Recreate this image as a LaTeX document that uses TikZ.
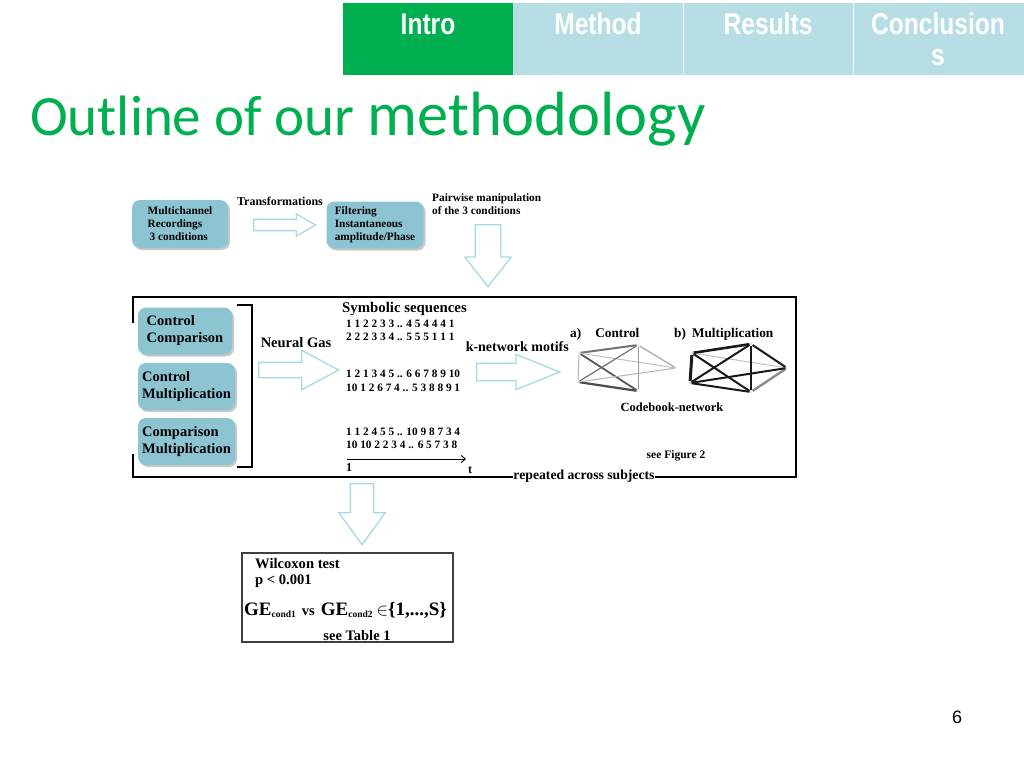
\documentclass[tikz,border=0pt]{standalone}
\usepackage{fontspec}
\setmainfont{Liberation Serif}
\newfontfamily\titlefont{Carlito}
\newfontfamily\tabfont[FakeStretch=0.82]{Liberation Sans}
\newfontfamily\pagefont{Liberation Sans}
\usetikzlibrary{arrows.meta,positioning,shapes.arrows,shadows}

\definecolor{slidegreen}{RGB}{0,176,80}
\definecolor{tabblue}{RGB}{183,222,228}
\definecolor{boxblue}{RGB}{140,196,210}
\definecolor{blkline}{RGB}{165,218,228}

\newcommand{\fs}[1]{\fontsize{#1}{#1}\selectfont}

\begin{document}
\begin{tikzpicture}[x=1pt,y=-1pt,
  tab/.style={font=\tabfont\bfseries\fontsize{30}{31}\selectfont,text=white,anchor=base,inner sep=0pt},
  cbox/.style={fill=boxblue,rounded corners=8pt,align=left,drop shadow={shadow xshift=2pt,shadow yshift=-2pt,fill=gray!60,opacity=.7}},
  lbl/.style={font=\bfseries,inner sep=0pt},
  seq/.style={font=\bfseries\fs{11.3},inner sep=0pt,anchor=west},
  blk/.style={single arrow,draw=blkline,fill=white,line width=1.3pt,inner sep=0pt,minimum width=0pt,anchor=tail},
  vtx/.style={inner sep=0.5pt,font=\fs{3.5},text=gray},
  frm/.style={line width=2.6pt,line cap=rect}]
\path[use as bounding box,fill=white] (0,0) rectangle (1024,768);

% tab bar and title
\fill[slidegreen] (343,3) rectangle (513,75);
\fill[tabblue] (513,3) rectangle (1024,75);
\draw[white,line width=0.6pt] (683,3) -- (683,75) (853,3) -- (853,75);
\node[tab] (intro) at (428,35) {Intro};
\node[tab] (meth) at (598,35) {Method};
\node[tab] (res) at (768,35) {Results};
\node[tab] (concl) at (938,35) {Conclusion};
\node[tab] (concls) at (938,66) {s};
\node[anchor=base west,inner sep=0pt,text=slidegreen] (title) at (30,135)
  {\titlefont\fs{57}Outline of our\ {\fs{62.5}methodology}};

% top row
\node[cbox,minimum width=96pt,minimum height=48pt,font=\bfseries\fontsize{11.3}{13}\selectfont] (rec) at (180,224) {Multichannel\\Recordings\\\hspace{2pt}3 conditions};
\node[lbl,font=\bfseries\fs{12}] (trans) at (280,201) {Transformations};
\node[blk,minimum height=62pt,inner ysep=5pt,single arrow head extend=5.5pt,single arrow tip angle=60] (arrA) at (253,225) {};
\node[cbox,minimum width=97pt,minimum height=47pt,font=\bfseries\fontsize{11.3}{13}\selectfont] (filt) at (375,225) {Filtering\\Instantaneous\\amplitude/Phase};
\node[lbl,align=left,anchor=north west,font=\bfseries\fontsize{11.3}{13}\selectfont] (pair) at (432,193) {Pairwise manipulation\\of the 3 conditions};
\node[blk,rotate=-90,minimum height=62pt,inner ysep=12pt,single arrow head extend=10.5pt,single arrow tip angle=76] (arrB) at (488,224) {};

% frame
\node[lbl,anchor=base,font=\bfseries\fs{13.7},fill=white,inner xsep=2pt] (rep) at (584,479) {repeated across subjects};
\coordinate (ftl) at (133,297);
\coordinate (ftr) at (796,297);
\coordinate (fbr) at (796,477);
\coordinate (fbl) at (133,477);
\draw[frm] (133,322) -- (ftl) -- (ftr) -- (fbr) -- (rep.east |- fbr);
\draw[frm] (rep.west |- fbl) -- (fbl) -- (133,455);
\draw[line width=1.3pt] (237,305) -- (252,305) -- (252,467) -- (237,467);

\node[cbox,minimum width=94pt,minimum height=47pt,font=\bfseries\fontsize{14.5}{17}\selectfont] (cc) at (185,331) {Control\\Comparison};
\node[cbox,minimum width=97pt,minimum height=47pt,font=\bfseries\fontsize{14.5}{17}\selectfont] (cm) at (186.5,386.5) {Control\\Multiplication};
\node[cbox,minimum width=97pt,minimum height=47pt,font=\bfseries\fontsize{14.5}{17}\selectfont] (cp) at (186.5,441.5) {Comparison\\Multiplication};

\node[lbl,font=\bfseries\fs{14.5}] (ng) at (296,343) {Neural Gas};
\node[blk,minimum height=80pt,inner ysep=7pt,single arrow head extend=12pt,single arrow tip angle=56] (arrC) at (258,370) {};

\node[lbl,anchor=west,font=\bfseries\fs{14.8}] (symb) at (342,309) {Symbolic sequences};
\node[seq] (s1) at (346,324) {1 1 2 2 3 3 .. 4 5 4 4 4 1};
\node[seq] (s2) at (346,337) {2 2 2 3 3 4 .. 5 5 5 1 1 1};
\node[seq] (s3) at (346,374) {1 2 1 3 4 5 .. 6 6 7 8 9 10};
\node[seq] (s4) at (346,388) {10 1 2 6 7 4 .. 5 3 8 8 9 1};
\node[seq] (s5) at (346,432) {1 1 2 4 5 5 .. 10 9 8 7 3 4};
\node[seq] (s6) at (346,445) {10 10 2 2 3 4 .. 6 5 7 3 8};
\coordinate (t0) at (347,459);
\coordinate (t1) at (466,459);
\draw[line width=1pt,-{Straight Barb[length=4pt,width=7pt]}] (t0) -- (t1);
\node[lbl,font=\bfseries\fs{12}] (one) at (349,468) {1};
\node[lbl,font=\bfseries\fs{12}] (tee) at (470,470) {t};

\node[lbl,anchor=east,font=\bfseries\fs{14}] (knet) at (569,347) {k-network motifs};
\node[blk,minimum height=83pt,inner ysep=8pt,single arrow head extend=9pt,single arrow tip angle=44] (arrD) at (476,372) {};

% codebook networks
\node[lbl,anchor=west,font=\bfseries\fs{13.3}] (la) at (570,334) {a)\hspace{14pt}Control};
\node[lbl,anchor=west,font=\bfseries\fs{13.3}] (lb) at (674,334) {b)\hspace{6pt}Multiplication};
\node[vtx] (a1) at (676,368) {1};
\node[vtx] (a2) at (638,345) {2};
\node[vtx] (a3) at (579,353) {3};
\node[vtx] (a4) at (578,382) {4};
\node[vtx] (a5) at (638,391) {5};
\node[vtx] (b1) at (787,368) {1};
\node[vtx] (b2) at (751,344) {2};
\node[vtx] (b3) at (692,353) {3};
\node[vtx] (b4) at (690,383) {4};
\node[vtx] (b5) at (751,392) {5};
\foreach \u/\v/\w/\c in {3/2/2/55,3/4/1/30,3/5/1.8/65,3/1/1/25,2/4/1.2/55,2/5/1/40,2/1/1.4/30,4/5/2.2/70,4/1/1/30}
  \draw[line width=\w pt,black!\c] (a\u) -- (a\v);
\foreach \u/\v/\w/\c in {3/1/1/25,5/1/2.4/45,3/2/2.6/90,3/4/3/90,3/5/2/90,2/4/2/90,2/5/2/90,2/1/2/90,4/1/2/90,4/5/2/90}
  \draw[line width=\w pt,black!\c] (b\u) -- (b\v);
\node[lbl,font=\bfseries\fs{12.5}] (cbn) at (672,407) {Codebook-network};
\node[lbl,font=\bfseries\fs{11.5}] (fig2) at (676,456) {see Figure 2};

% statistics
\node[blk,rotate=-90,minimum height=61pt,inner ysep=11pt,single arrow head extend=11.5pt,single arrow tip angle=72] (arrE) at (362,483) {};
\node[draw=black!75,line width=1.3pt,minimum width=211pt,minimum height=89pt,inner sep=0pt] (wbox) at (347.5,597.5) {};
\node[lbl,anchor=west,font=\bfseries\fs{14.6}] (wil) at (255,564) {Wilcoxon test};
\node[lbl,anchor=west,font=\bfseries\fs{14.6}] (pval) at (255,581) {p < 0.001};
\node[lbl,anchor=west,font=\bfseries\fs{19}] (ge) at (244,610)
  {GE\raisebox{-2.5pt}{\fs{9.5}cond1}\hspace{6pt}{\fs{14.5}vs}\hspace{6pt}GE\raisebox{-2.5pt}{\fs{9.5}cond2}\hspace{4pt}$\in$\{1,...,S\}};
\node[lbl,font=\bfseries\fs{14.5}] (tab1) at (357,636) {see Table 1};

\node[font=\pagefont\fs{18}] (pnum) at (957,717) {6};
\end{tikzpicture}
\end{document}
